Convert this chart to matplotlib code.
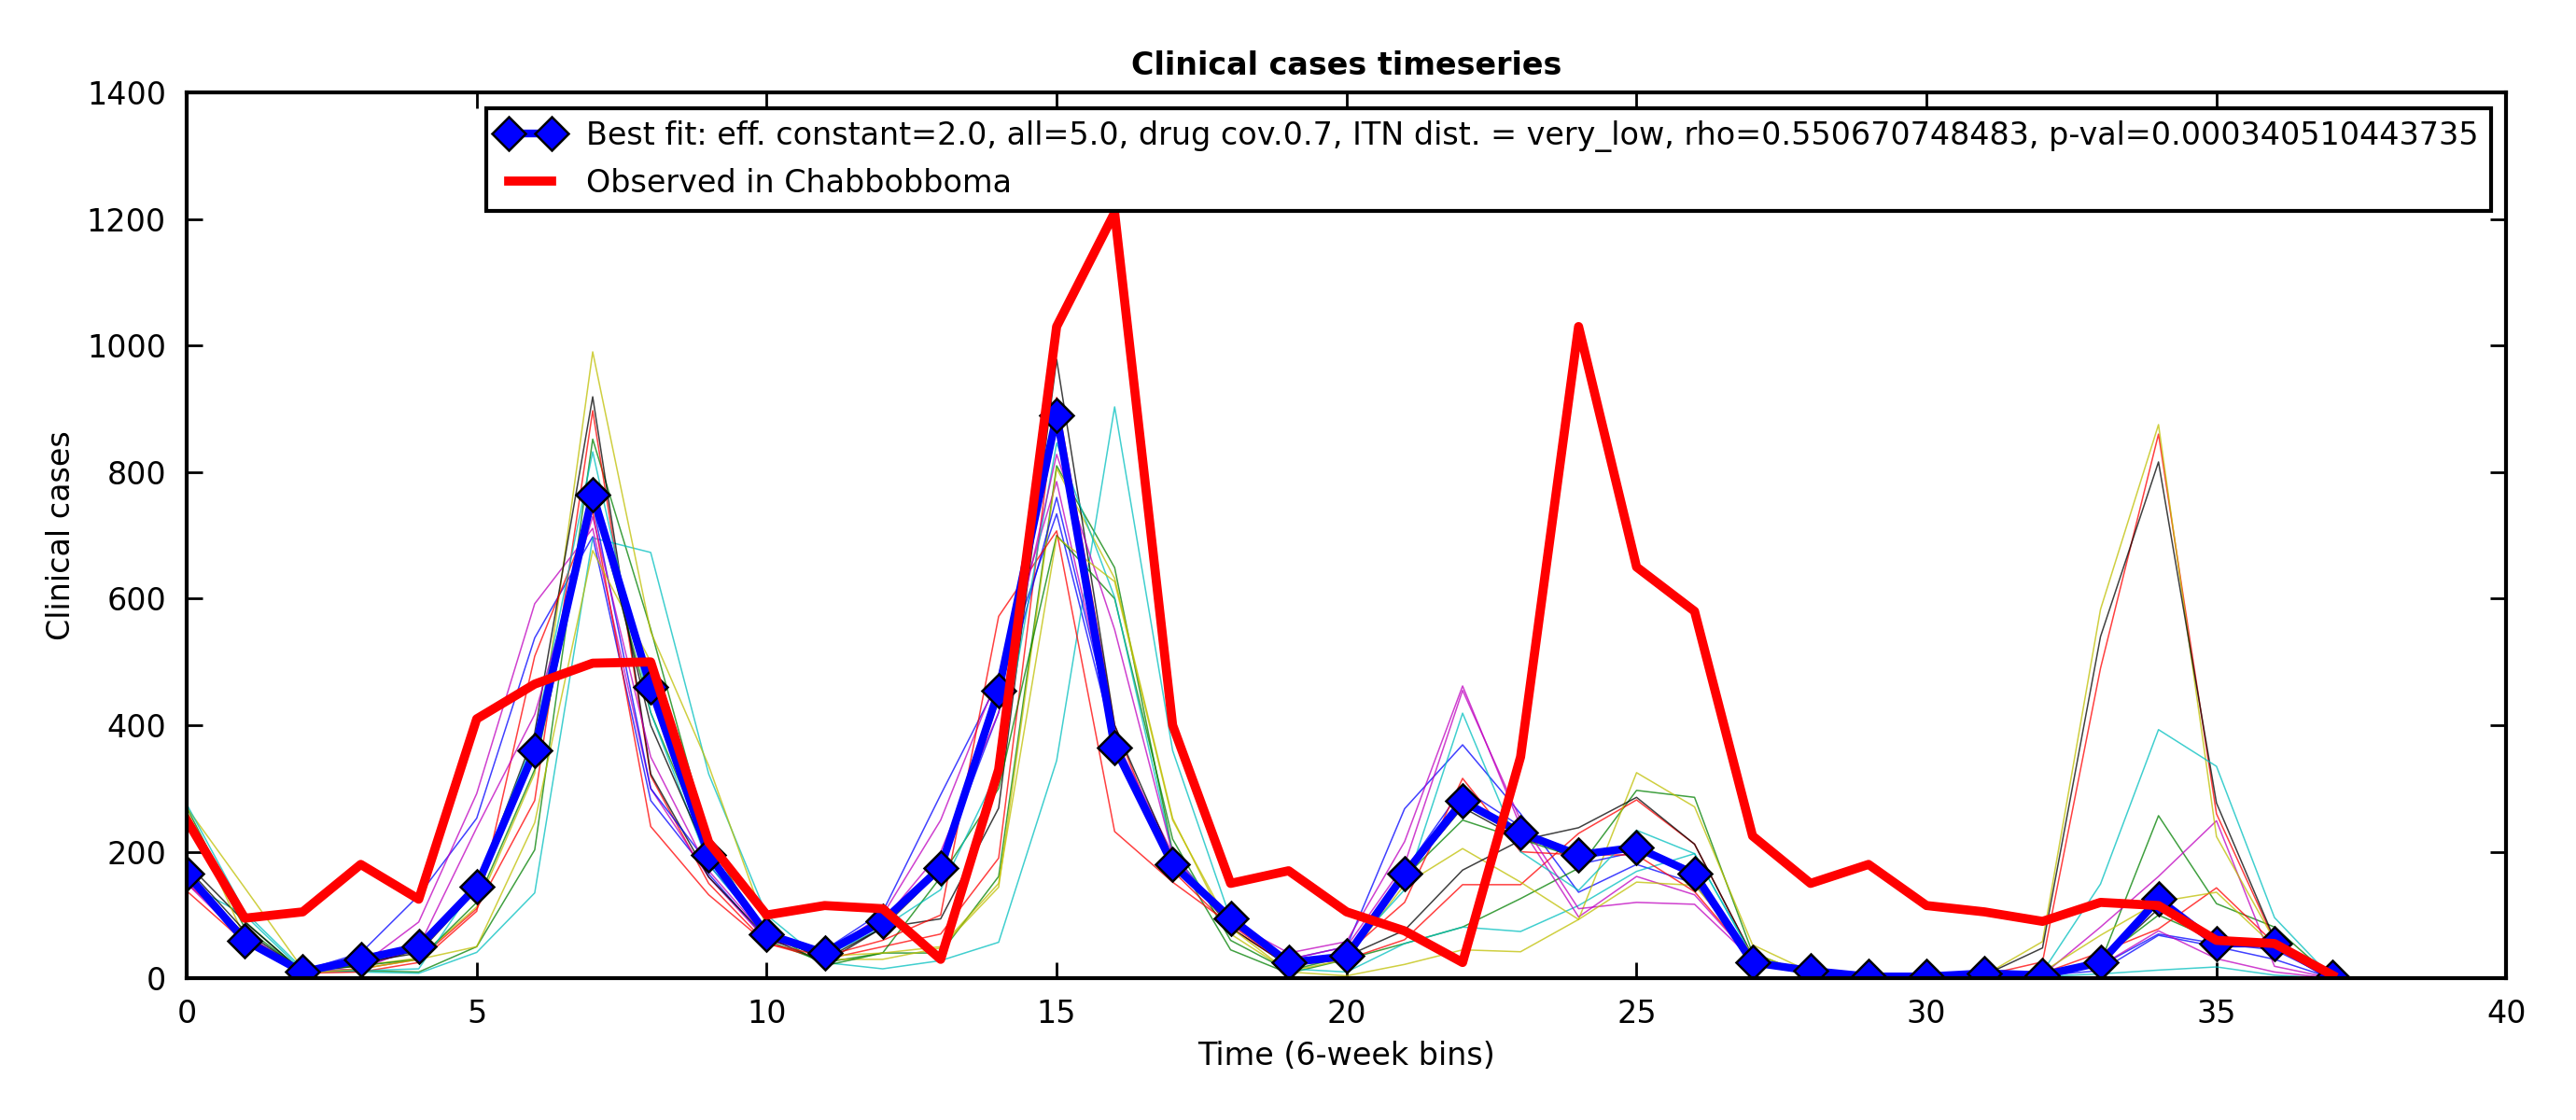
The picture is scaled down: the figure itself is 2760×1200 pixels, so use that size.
import matplotlib
matplotlib.use("Agg")
import matplotlib.pyplot as plt
import numpy as np

time_bins = list(range(38))

best_fit = [165, 60, 10, 30, 50, 145, 360, 765, 460, 195, 70, 40, 90, 175, 455, 890, 365, 180, 95, 25,
            35, 165, 280, 230, 195, 207, 165, 25, 12, 3, 3, 8, 5, 25, 125, 55, 55, 2]

observed = [250, 95, 105, 180, 125, 410, 465, 498, 500, 215, 100, 115, 110, 30, 330, 1030, 1210, 400, 150, 170,
            105, 75, 25, 350, 1030, 650, 580, 225, 150, 180, 115, 105, 90, 120, 115, 60, 55, 5]

run_b1 = [160, 70, 12, 40, 131, 253, 538, 698, 281, 165, 60, 45, 105, 290, 470, 734, 370, 190, 90, 30,
          50, 268, 369, 260, 136, 180, 150, 30, 5, 2, 2, 3, 5, 12, 68, 50, 30, 0]
run_g1 = [270, 90, 10, 12, 10, 50, 203, 852, 552, 219, 60, 25, 40, 40, 161, 810, 649, 200, 45, 8,
          30, 55, 81, 126, 174, 297, 286, 40, 5, 2, 2, 3, 10, 25, 257, 118, 81, 0]
run_r1 = [150, 70, 10, 15, 30, 110, 281, 897, 320, 150, 55, 30, 50, 70, 190, 918, 400, 170, 80, 20,
          30, 61, 148, 148, 229, 282, 212, 35, 5, 2, 2, 5, 26, 490, 860, 260, 60, 0]
run_c1 = [150, 100, 12, 10, 8, 41, 135, 696, 673, 323, 100, 25, 15, 28, 57, 344, 903, 360, 94, 15,
          10, 55, 81, 74, 115, 169, 197, 35, 3, 1, 1, 2, 3, 7, 13, 18, 5, 0]
run_m1 = [153, 65, 12, 20, 89, 292, 592, 711, 300, 160, 60, 40, 100, 250, 480, 785, 380, 197, 90, 40,
          58, 216, 462, 240, 97, 161, 132, 30, 5, 2, 2, 5, 5, 81, 161, 249, 19, 0]
run_y1 = [270, 143, 15, 20, 32, 113, 324, 990, 548, 336, 80, 30, 30, 48, 144, 806, 632, 253, 70, 11,
          30, 148, 205, 152, 93, 325, 271, 53, 10, 3, 2, 5, 58, 583, 875, 224, 60, 0]
run_k1 = [182, 89, 10, 20, 45, 145, 388, 919, 323, 160, 65, 25, 80, 94, 269, 978, 400, 190, 80, 20,
          35, 76, 171, 218, 238, 286, 212, 35, 5, 2, 2, 5, 48, 540, 816, 277, 62, 0]
run_b2 = [170, 65, 12, 25, 45, 150, 370, 750, 300, 180, 70, 45, 95, 180, 420, 760, 380, 190, 90, 25,
          40, 170, 300, 240, 180, 200, 170, 30, 10, 3, 3, 5, 8, 20, 70, 55, 45, 0]
run_g2 = [250, 80, 12, 20, 30, 120, 330, 760, 420, 200, 75, 20, 40, 160, 300, 700, 600, 220, 60, 12,
          35, 160, 250, 220, 190, 210, 160, 30, 5, 2, 2, 4, 6, 30, 100, 60, 50, 0]
run_r2 = [138, 57, 8, 10, 25, 106, 509, 738, 240, 132, 55, 35, 60, 100, 572, 707, 232, 152, 85, 20,
          40, 120, 316, 200, 195, 195, 137, 30, 5, 2, 2, 8, 8, 41, 78, 143, 55, 0]
run_c2 = [275, 105, 15, 12, 15, 150, 380, 832, 420, 180, 70, 35, 80, 140, 330, 846, 602, 197, 90, 20,
          40, 140, 419, 200, 139, 234, 197, 35, 5, 2, 2, 5, 10, 149, 393, 335, 96, 0]
run_m2 = [150, 60, 10, 15, 50, 238, 417, 730, 350, 170, 65, 35, 90, 200, 420, 828, 551, 197, 85, 30,
          50, 180, 455, 250, 110, 120, 117, 30, 5, 2, 2, 4, 5, 20, 75, 31, 10, 0]
run_y2 = [265, 64, 8, 15, 30, 50, 246, 676, 500, 200, 65, 35, 40, 50, 150, 697, 627, 250, 80, 10,
          4, 22, 45, 42, 93, 152, 147, 40, 5, 2, 2, 3, 10, 68, 121, 136, 50, 0]
run_k2 = [175, 75, 12, 25, 40, 140, 360, 780, 400, 190, 70, 30, 80, 170, 440, 870, 360, 180, 90, 25,
          40, 160, 270, 220, 200, 210, 170, 30, 8, 2, 2, 5, 10, 25, 110, 60, 50, 0]

runs = [run_b1, run_g1, run_r1, run_c1, run_m1, run_y1, run_k1,
        run_b2, run_g2, run_r2, run_c2, run_m2, run_y2, run_k2]
run_colors = ['b', 'g', 'r', 'c', 'm', 'y', 'k']

best_label = ("Best fit: eff. constant=2.0, all=5.0, drug cov.0.7, ITN dist. = very_low, "
              "rho=0.550670748483, p-val=0.000340510443735")
obs_label = "Observed in Chabbobboma"

plt.rcParams['font.family'] = ['DejaVu Sans']
plt.rcParams['font.size'] = 12
plt.rcParams['xtick.direction'] = 'in'
plt.rcParams['ytick.direction'] = 'in'
plt.rcParams['xtick.top'] = True
plt.rcParams['ytick.right'] = True
plt.rcParams['xtick.major.size'] = 6
plt.rcParams['ytick.major.size'] = 6
plt.rcParams['xtick.major.width'] = 1
plt.rcParams['ytick.major.width'] = 1
plt.rcParams['xtick.major.pad'] = 8
plt.rcParams['ytick.major.pad'] = 8

fig = plt.figure(figsize=(13.8, 6), dpi=200)
ax = fig.add_axes([0.0725, 0.1265, 0.9005, 0.791])

for i, run in enumerate(runs):
    ax.plot(time_bins, run, color=run_colors[i % 7], lw=0.55, alpha=0.75)

ax.plot(time_bins, best_fit, color='b', lw=3, marker='D', ms=9, mfc='b', mec='k', mew=0.9,
        label=best_label)
ax.plot(time_bins, observed, color='r', lw=3.5, label=obs_label)

ax.set_xlim(0, 40)
ax.set_ylim(0, 1400)
ax.set_xticks(range(0, 41, 5))
ax.set_yticks(range(0, 1401, 200))
for s in ax.spines.values():
    s.set_linewidth(1.5)

ax.set_title("Clinical cases timeseries", fontsize=12, fontweight='bold', pad=7)
ax.set_xlabel("Time (6-week bins)", fontsize=12)
ax.set_ylabel("Clinical cases", fontsize=12)

leg = ax.legend(loc='upper right', numpoints=2, fancybox=False, fontsize=12,
                borderaxespad=0.5, handlelength=2.0)
leg.get_frame().set_edgecolor('k')
leg.get_frame().set_linewidth(1.5)
leg.get_frame().set_alpha(1)

fig.savefig("out.png", dpi=200, facecolor='white')
